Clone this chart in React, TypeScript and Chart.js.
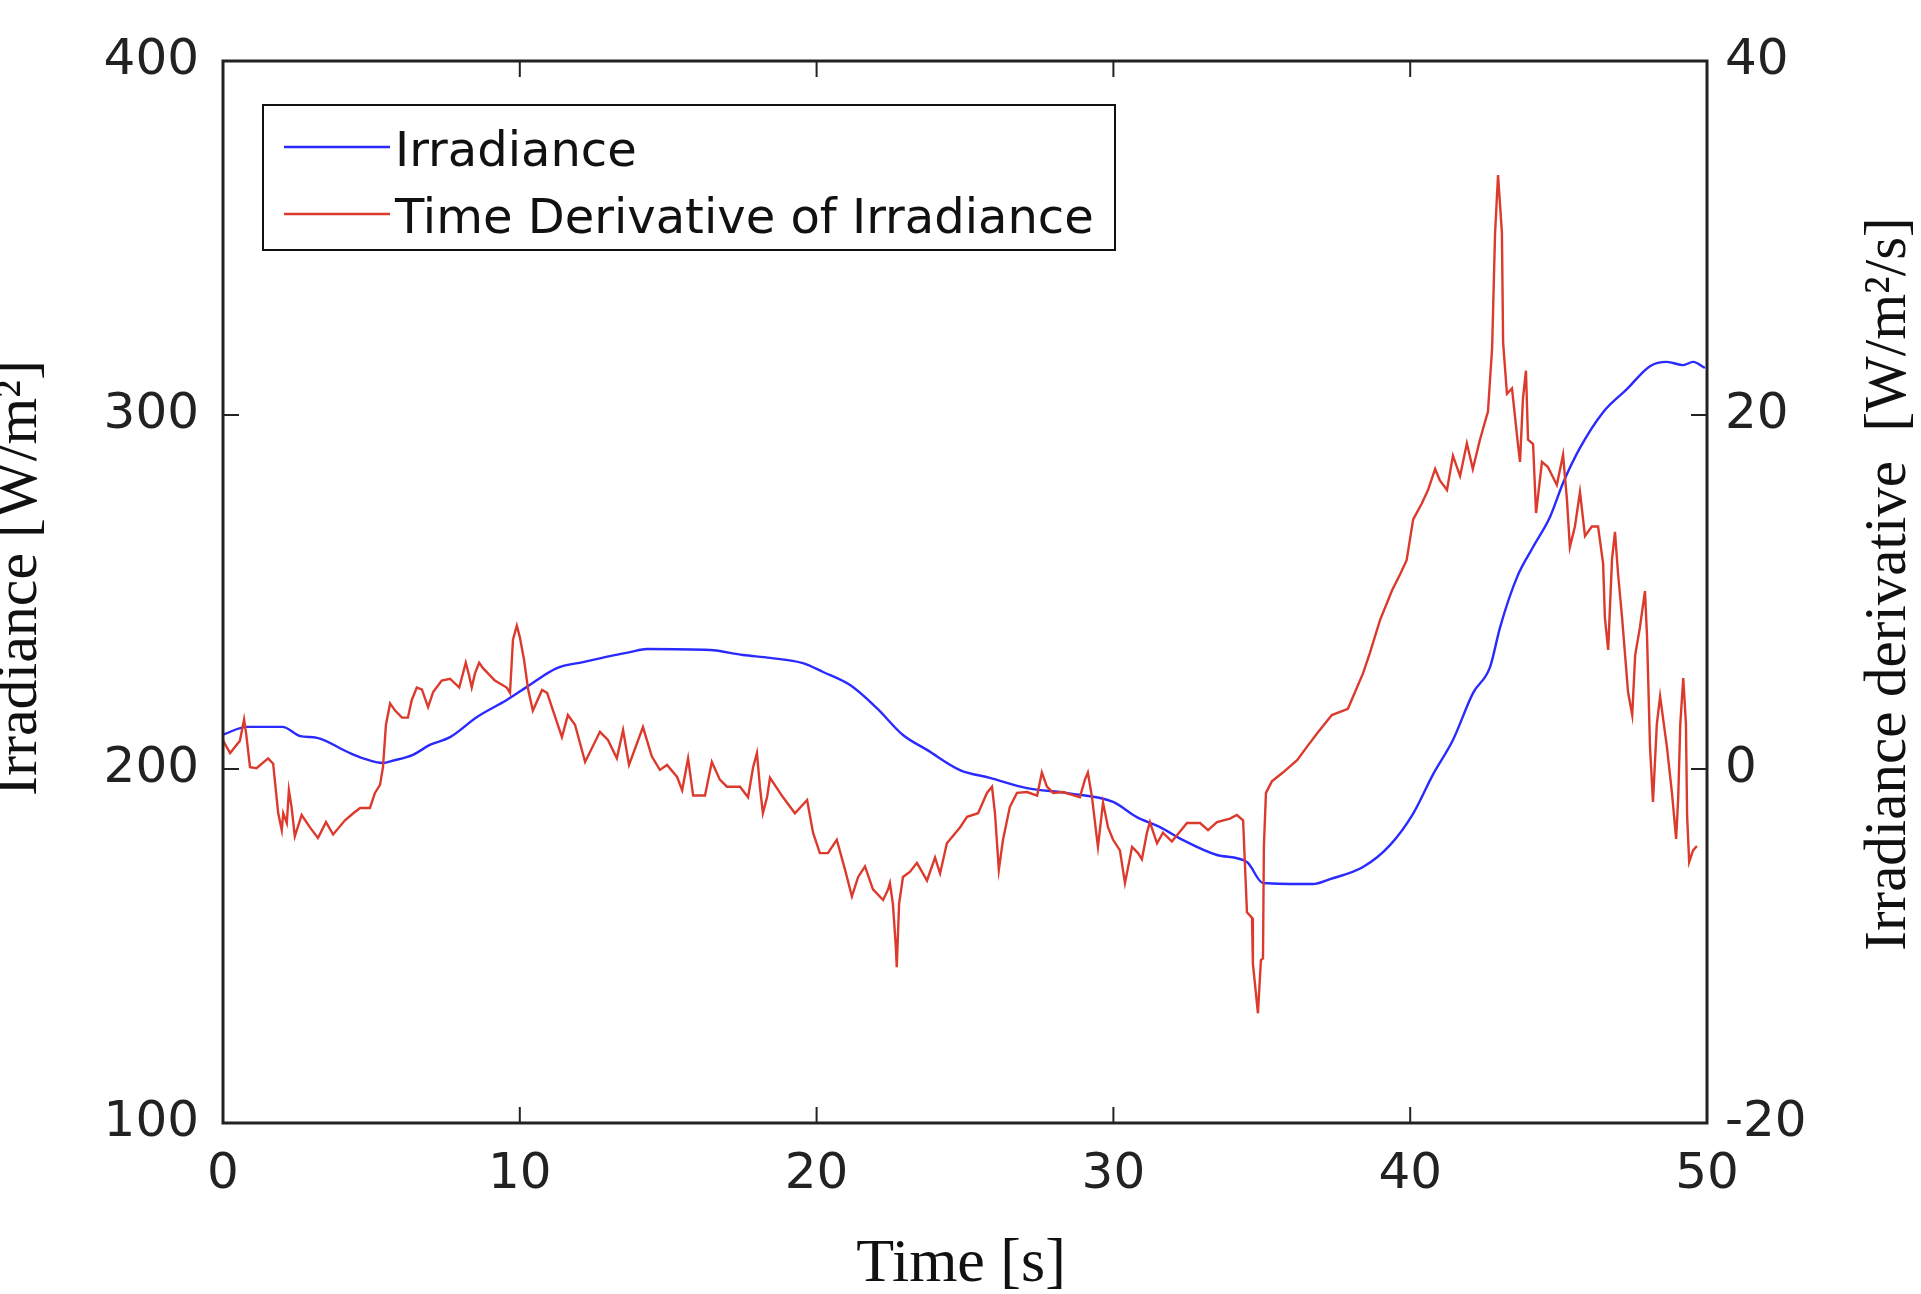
import React, { useEffect, useRef } from 'react';
import { Chart, registerables } from 'chart.js';

Chart.register(...registerables);

// ---- Data ----
const irradianceTime = [
  0, 0.8, 2.0, 2.6, 3.17, 4.2, 4.7, 5.4, 5.7, 6.4, 6.97, 7.65, 8.56, 9.56, 10.24,
  11.25, 12.13, 13.04, 13.71, 14.29, 16.41, 17.52, 18.43, 19.54, 20.22, 21.13, 22.03,
  22.91, 23.72, 24.83, 25.84, 27.09, 28.44, 29.99, 30.79, 31.57, 32.35, 33.49, 34.5,
  35.04, 36.72, 37.3, 38.41, 39.32, 40.1, 40.77, 41.44, 42.12, 42.69, 43.03, 43.6,
  44.14, 44.71, 45.15, 45.72, 46.5, 47.3, 48.08, 48.65, 49.2, 49.53, 49.93,
];
const irradianceValues = [
  209.7, 211.9, 211.9, 209.3, 208.8, 204.8, 203.1, 201.7, 202.3, 204, 206.8, 209, 214.7,
  219.5, 223.2, 228.5, 230.2, 231.9, 233.0, 233.9, 233.6, 232.2, 231.4, 229.9, 227.4,
  223.7, 217.2, 209.6, 205.4, 199.7, 197.5, 194.6, 193.2, 190.7, 186.4, 183.6, 179.9,
  175.7, 173.7, 167.8, 167.5, 168.9, 172.3, 178.5, 187.4, 198.5, 208.2, 221.5, 228.8,
  240.1, 254.2, 262.7, 271.2, 280.8, 290.7, 300.8, 307.3, 313.8, 315, 314.1, 315, 313.3,
];

const derivativeTime = [
  0.0, 0.24, 0.57, 0.71, 0.78, 0.91, 1.13, 1.52, 1.69, 1.75, 1.86, 1.98, 2.03, 2.15, 2.22,
  2.31, 2.42, 2.65, 2.93, 3.2, 3.47, 3.71, 4.11, 4.39, 4.62, 4.95, 5.12, 5.29, 5.39, 5.49,
  5.63, 5.8, 6.03, 6.23, 6.36, 6.53, 6.7, 6.91, 7.08, 7.37, 7.65, 7.96, 8.18, 8.29, 8.38,
  8.49, 8.63, 8.76, 9.16, 9.56, 9.67, 9.77, 9.9, 10.0, 10.14, 10.28, 10.44, 10.75, 10.92,
  11.42, 11.62, 11.86, 12.2, 12.7, 12.97, 13.27, 13.48, 13.68, 14.15, 14.45, 14.72, 14.96,
  15.3, 15.47, 15.67, 15.84, 16.24, 16.47, 16.74, 16.98, 17.42, 17.69, 17.86, 17.99, 18.09,
  18.19, 18.33, 18.43, 18.87, 19.27, 19.68, 19.88, 20.11, 20.38, 20.68, 20.96, 21.19, 21.4,
  21.63, 21.9, 22.24, 22.41, 22.47, 22.57, 22.67, 22.7, 22.78, 22.91, 23.15, 23.38, 23.72,
  23.99, 24.16, 24.39, 24.83, 25.07, 25.44, 25.74, 25.91, 26.01, 26.14, 26.28, 26.51, 26.75,
  27.09, 27.43, 27.59, 27.76, 27.97, 28.3, 28.87, 29.04, 29.14, 29.28, 29.41, 29.48, 29.65,
  29.82, 29.99, 30.22, 30.39, 30.63, 30.83, 30.96, 31.13, 31.23, 31.47, 31.67, 31.97, 32.48,
  32.92, 33.19, 33.49, 33.93, 34.16, 34.37, 34.5, 34.67, 34.7, 34.8, 34.87, 34.97, 35.04,
  35.07, 35.14, 35.34, 35.71, 36.19, 36.52, 36.86, 37.36, 37.9, 38.07, 38.41, 38.64, 38.98,
  39.39, 39.66, 39.88, 40.1, 40.39, 40.6, 40.84, 41.0, 41.24, 41.44, 41.68, 41.91, 42.11,
  42.35, 42.62, 42.76, 42.86, 42.96, 43.09, 43.13, 43.26, 43.43, 43.63, 43.7, 43.8, 43.9,
  43.97, 44.14, 44.24, 44.44, 44.64, 44.94, 45.15, 45.28, 45.38, 45.55, 45.72, 45.89, 46.12,
  46.33, 46.5, 46.56, 46.67, 46.8, 46.9, 47.0, 47.14, 47.34, 47.48, 47.58, 47.74, 47.91,
  47.98, 48.08, 48.18, 48.31, 48.42, 48.65, 48.82, 48.96, 49.03, 49.1, 49.2, 49.29, 49.33,
  49.4, 49.53, 49.66,
];
const derivativeValues = [
  1.6, 0.9, 1.6, 2.8, 2.0, 0.1, 0.05, 0.6, 0.3, -0.7, -2.5, -3.45, -2.5, -3.05, -1.2,
  -2.15, -3.8, -2.6, -3.3, -3.9, -3.0, -3.7, -2.9, -2.5, -2.2, -2.2, -1.35, -0.9, 0.1, 2.5,
  3.7, 3.3, 2.9, 2.9, 3.9, 4.6, 4.5, 3.5, 4.35, 5.0, 5.1, 4.6, 6.0, 5.3, 4.6,
  5.4, 6.0, 5.7, 5.0, 4.6, 4.3, 7.3, 8.1, 7.45, 6.2, 4.5, 3.3, 4.46, 4.3,
  1.8, 3.05, 2.5, 0.4, 2.1, 1.64, 0.6, 2.2, 0.23, 2.37, 0.7, -0.05, 0.23,
  -0.45, -1.2, 0.6, -1.5, -1.5, 0.4, -0.6, -1.0, -1.0, -1.6, 0.1, 0.9, -1.0,
  -2.5, -1.6, -0.5, -1.6, -2.5, -1.75, -3.6, -4.75, -4.75, -4.0, -5.7, -7.2, -6.1,
  -5.5, -6.8, -7.4, -6.8, -6.45, -7.6, -10.05, -11.2, -7.6, -6.1, -5.8, -5.3, -6.3,
  -5.0, -5.9, -4.2, -3.3, -2.7, -2.5, -1.35, -1.0, -2.5, -5.7, -4.0, -2.15, -1.35,
  -1.3, -1.5, -0.2, -1.0, -1.35, -1.3, -1.6, -0.6, -0.2, -1.6, -3.45, -4.4, -1.9,
  -3.3, -4.0, -4.6, -6.45, -4.4, -4.75, -5.1, -3.6, -3.0, -4.2, -3.6, -4.1, -3.05,
  -3.05, -3.45, -3.0, -2.8, -2.6, -2.9, -8.1, -8.4, -11.0, -12.65, -13.8, -10.8, -10.7,
  -4.4, -1.35, -0.7, -0.2, 0.5, 1.25, 2.0, 3.05, 3.4, 4.07, 5.4, 6.55, 8.4,
  10.1, 11.0, 11.8, 14.1, 15.0, 15.76, 16.95, 16.3, 15.76, 17.7, 16.55, 18.4, 16.95,
  18.6, 20.2, 23.8, 30.3, 33.56, 30.3, 24.1, 21.2, 21.5, 18.36, 17.35, 20.96, 22.5,
  18.6, 18.36, 14.46, 17.35, 17.06, 16.05, 17.75, 15.25, 12.54, 13.7, 15.65, 13.16, 13.7,
  13.7, 11.6, 8.53, 6.73, 11.86, 13.4, 11.1, 8.53, 4.35, 3.05, 6.44, 8.0, 10.06,
  7.46, 1.24, -1.86, 2.54, 4.1, 1.24, -1.36, -3.95, -1.6, 2.54, 5.14, 2.54, -2.65,
  -5.25, -4.6, -4.35,
];

const seriesLabels = ['Irradiance', 'Time Derivative of Irradiance'];
const xAxisTitle = 'Time [s]';
const leftAxisTitle = 'Irradiance [W/m²]';
const rightAxisTitle = 'Irradiance derivative  [W/m²/s]';
const xRange = { min: 0, max: 50, step: 10 };
const leftRange = { min: 100, max: 400, step: 100 };
const rightRange = { min: -20, max: 40, step: 20 };

const BLUE = '#2a2aff';
const RED = '#dc3a2c';
const TICK_FONT = '"DejaVu Sans", sans-serif';
const SERIF = '"Liberation Serif", "Times New Roman", serif';

const decorPlugin = {
  id: 'decor',
  afterDraw(chart: any) {
    const { ctx, chartArea: a, scales } = chart;
    ctx.save();
    // inward ticks
    ctx.strokeStyle = '#222';
    ctx.lineWidth = 2;
    const tl = 16;
    const seg = (x1: number, y1: number, x2: number, y2: number) => {
      ctx.beginPath();
      ctx.moveTo(x1, y1);
      ctx.lineTo(x2, y2);
      ctx.stroke();
    };
    scales.x.ticks.forEach((t: any) => {
      const px = scales.x.getPixelForValue(t.value);
      seg(px, a.bottom, px, a.bottom - tl);
      seg(px, a.top, px, a.top + tl);
    });
    scales.y.ticks.forEach((t: any) => {
      const py = scales.y.getPixelForValue(t.value);
      seg(a.left, py, a.left + tl, py);
    });
    scales.y1.ticks.forEach((t: any) => {
      const py = scales.y1.getPixelForValue(t.value);
      seg(a.right, py, a.right - tl, py);
    });
    // frame
    ctx.lineWidth = 3;
    ctx.strokeRect(a.left, a.top, a.right - a.left, a.bottom - a.top);

    // legend
    const lx = a.left + 40;
    const ly = a.top + 44;
    const lw = 852;
    const lh = 145;
    ctx.fillStyle = '#fff';
    ctx.fillRect(lx, ly, lw, lh);
    ctx.lineWidth = 2;
    ctx.strokeStyle = '#111';
    ctx.strokeRect(lx, ly, lw, lh);
    const ds = chart.data.datasets;
    const rows = [ly + 42, ly + 109];
    ds.forEach((d: any, i: number) => {
      ctx.strokeStyle = d.borderColor;
      ctx.lineWidth = 2.5;
      seg(lx + 21, rows[i], lx + 127, rows[i]);
      ctx.fillStyle = '#111';
      ctx.font = `48px ${TICK_FONT}`;
      ctx.textAlign = 'left';
      ctx.textBaseline = 'alphabetic';
      ctx.fillText(d.label, lx + 132, rows[i] + 19);
    });

    // axis titles
    ctx.fillStyle = '#111';
    ctx.font = `62px ${SERIF}`;
    ctx.textAlign = 'center';
    ctx.textBaseline = 'alphabetic';
    ctx.fillText(xAxisTitle, (a.left + a.right) / 2 - 4, 1281);

    ctx.font = `60px ${SERIF}`;
    ctx.save();
    ctx.translate(36, 578);
    ctx.rotate(-Math.PI / 2);
    ctx.fillText(leftAxisTitle, 0, 0);
    ctx.restore();

    ctx.font = `59px ${SERIF}`;
    ctx.save();
    ctx.translate(1905, 584);
    ctx.rotate(-Math.PI / 2);
    ctx.fillText(rightAxisTitle, 0, 0);
    ctx.restore();

    ctx.restore();
  },
};

export default function App() {
  const canvasRef = useRef<HTMLCanvasElement | null>(null);

  useEffect(() => {
    document.body.style.margin = '0';
    document.body.style.overflow = 'hidden';
    const canvas = canvasRef.current;
    if (!canvas) return;
    const irrData = irradianceTime.map((t, i) => ({ x: t, y: irradianceValues[i] }));
    const derData = derivativeTime.map((t, i) => ({ x: t, y: derivativeValues[i] }));
    const tickFont = { family: TICK_FONT, size: 50 };
    const chart = new Chart(canvas, {
      type: 'line',
      data: {
        datasets: [
          {
            label: seriesLabels[0],
            data: irrData,
            borderColor: BLUE,
            borderWidth: 2.4,
            pointRadius: 0,
            cubicInterpolationMode: 'monotone',
            yAxisID: 'y',
            order: 1,
          },
          {
            label: seriesLabels[1],
            data: derData,
            borderColor: RED,
            borderWidth: 2.4,
            pointRadius: 0,
            tension: 0,
            yAxisID: 'y1',
            order: 0,
          },
        ],
      },
      options: {
        responsive: false,
        animation: false,
        devicePixelRatio: 1,
        layout: { padding: { top: 61, left: 0, right: 0, bottom: 0 } },
        plugins: { legend: { display: false }, tooltip: { enabled: false }, title: { display: false } },
        scales: {
          x: {
            type: 'linear',
            min: xRange.min,
            max: xRange.max,
            ticks: { stepSize: xRange.step, font: tickFont, color: '#222', padding: 22, maxRotation: 0 },
            grid: { display: false, drawTicks: false },
            border: { display: false },
            afterFit: (s: any) => { s.height = 171; },
          },
          y: {
            type: 'linear',
            position: 'left',
            min: leftRange.min,
            max: leftRange.max,
            ticks: { stepSize: leftRange.step, font: tickFont, color: '#222', padding: 24 },
            grid: { display: false, drawTicks: false },
            border: { display: false },
            afterFit: (s: any) => { s.width = 223; },
          },
          y1: {
            type: 'linear',
            position: 'right',
            min: rightRange.min,
            max: rightRange.max,
            ticks: { stepSize: rightRange.step, font: tickFont, color: '#222', padding: 18 },
            grid: { display: false, drawTicks: false },
            border: { display: false },
            afterFit: (s: any) => { s.width = 214; },
          },
        },
      },
      plugins: [decorPlugin],
    } as any);
    return () => chart.destroy();
  }, []);

  return (
    <div style={{ position: 'absolute', left: 0, top: 0, width: 1921, height: 1294, background: '#fff' }}>
      <canvas ref={canvasRef} width={1921} height={1294} style={{ display: 'block', width: 1921, height: 1294 }} />
    </div>
  );
}
